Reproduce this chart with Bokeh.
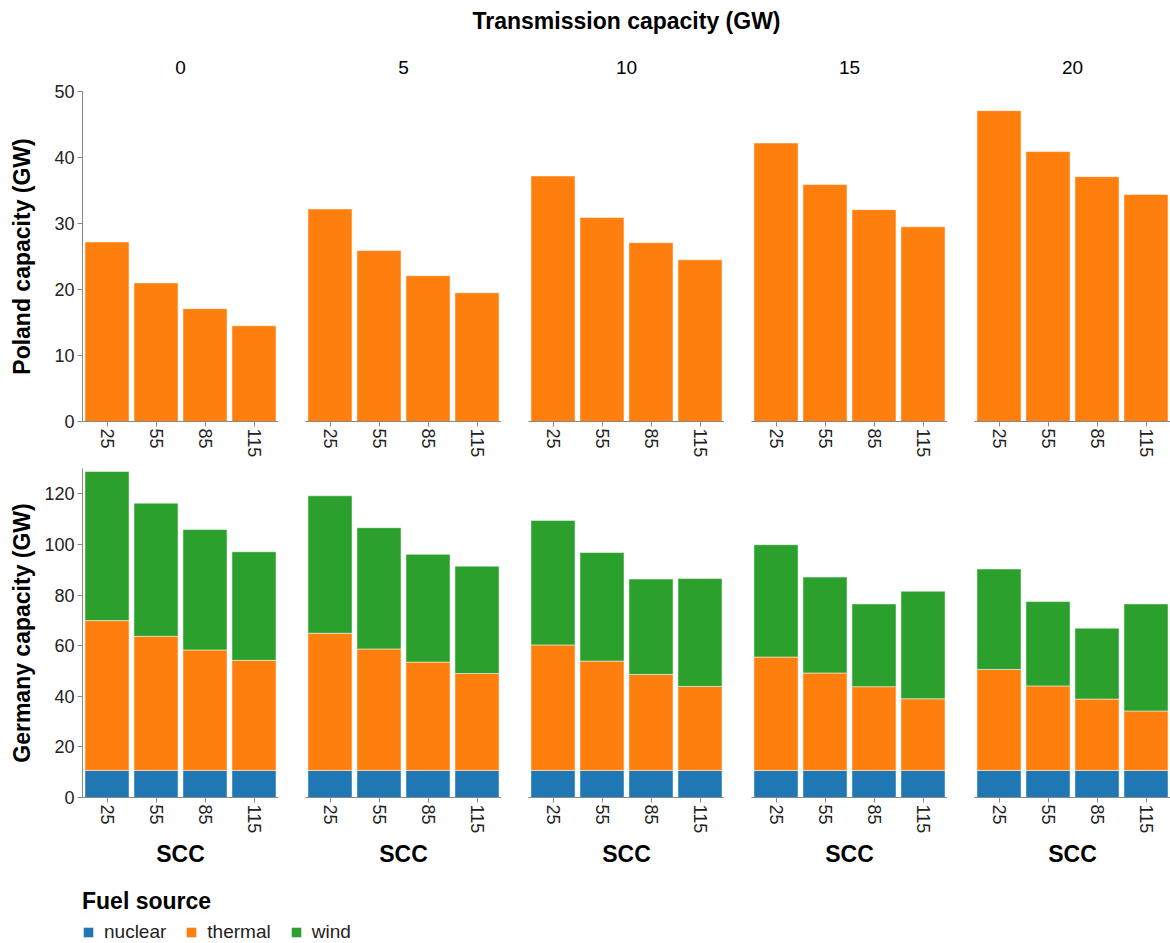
import math
from bokeh.plotting import figure
from bokeh.models import (ColumnDataSource, FactorRange, Range1d, SingleIntervalTicker,
                          Legend, LegendItem, Label, CategoricalAxis)
from bokeh.layouts import column, row
from bokeh.embed import file_html
from bokeh.resources import INLINE

# ---------------- data ----------------
scc = ["25", "55", "85", "115"]
transmission = ["0", "5", "10", "15", "20"]
fuels = ["nuclear", "thermal", "wind"]
fuel_colors = ["#1f77b4", "#ff7f0e", "#2ca02c"]

# Poland capacity (thermal only), per transmission capacity
poland_0 = [27.2, 21.0, 17.1, 14.5]
poland_5 = [32.2, 25.9, 22.1, 19.5]
poland_10 = [37.2, 30.9, 27.1, 24.5]
poland_15 = [42.2, 35.9, 32.1, 29.5]
poland_20 = [47.1, 40.9, 37.1, 34.4]

# Germany capacity by fuel, per transmission capacity
germany_nuclear = [10.7, 10.7, 10.7, 10.7]
germany_thermal_0 = [59.2, 53.0, 47.6, 43.5]
germany_thermal_5 = [54.2, 48.0, 42.8, 38.3]
germany_thermal_10 = [49.6, 43.2, 37.9, 33.2]
germany_thermal_15 = [44.8, 38.5, 33.1, 28.3]
germany_thermal_20 = [39.9, 33.4, 28.2, 23.5]
germany_wind_0 = [58.9, 52.6, 47.6, 42.9]
germany_wind_5 = [54.3, 47.9, 42.6, 42.4]
germany_wind_10 = [49.2, 42.9, 37.7, 42.6]
germany_wind_15 = [44.4, 37.9, 32.7, 42.5]
germany_wind_20 = [39.7, 33.3, 28.0, 42.3]

poland = [poland_0, poland_5, poland_10, poland_15, poland_20]
germany_thermal = [germany_thermal_0, germany_thermal_5, germany_thermal_10,
                   germany_thermal_15, germany_thermal_20]
germany_wind = [germany_wind_0, germany_wind_5, germany_wind_10,
                germany_wind_15, germany_wind_20]

# ---------------- layout constants ----------------
FONT = "Liberation Sans"
TOTAL_W = 1170
LEFT = 82
FRAME_W = 196
GAP = 27
FRAME_H = 330
TICK_FS = "18px"
TITLE_FS = "23px"

poland_y = Range1d(0, 50)
germany_y = Range1d(0, 130)


def style_common(p):
    p.xgrid.visible = False
    p.ygrid.visible = False
    p.outline_line_color = None
    p.background_fill_color = "white"
    p.border_fill_color = "white"
    for ax in p.xaxis:
        ax.axis_line_color = "#888888"
        ax.major_tick_line_color = "#888888"
        ax.major_tick_out = 5
        ax.major_tick_in = 0
        ax.minor_tick_line_color = None
        ax.major_label_orientation = "vertical"
        ax.major_label_text_font = FONT
        ax.major_label_text_font_size = TICK_FS
        ax.major_label_text_color = "#222222"
        ax.major_label_standoff = 2
    for ax in p.yaxis:
        ax.axis_line_color = "#888888"
        ax.major_tick_line_color = "#888888"
        ax.major_tick_out = 5
        ax.major_tick_in = 0
        ax.minor_tick_line_color = None
        ax.major_label_text_font = FONT
        ax.major_label_text_font_size = TICK_FS
        ax.major_label_text_color = "#222222"
        ax.major_label_standoff = 3
        ax.axis_label_text_font = FONT
        ax.axis_label_text_font_size = TITLE_FS
        ax.axis_label_text_font_style = "bold"
        ax.axis_label_text_color = "#000000"


# ---------------- header ----------------
header = figure(width=TOTAL_W, height=40, x_range=Range1d(0, 1), y_range=Range1d(0, 1),
                x_axis_type=None, y_axis_type=None, toolbar_location=None,
                output_backend="svg", min_border_left=LEFT, min_border_right=0,
                min_border_top=0, min_border_bottom=0)
header.grid.visible = False
header.outline_line_color = None
header.add_layout(Label(x=0.5, y=0.5, text="Transmission capacity (GW)",
                        text_align="center", text_baseline="middle",
                        text_font=FONT, text_font_size=TITLE_FS,
                        text_font_style="bold", text_color="#000000"))

# ---------------- top row: Poland ----------------
top_figs = []
for i, tc in enumerate(transmission):
    first = i == 0
    src = ColumnDataSource(dict(scc=scc, thermal=poland[i]))
    p = figure(x_range=FactorRange(*scc), y_range=poland_y,
               width=(LEFT if first else GAP) + FRAME_W, height=51 + FRAME_H + 47,
               min_border_left=(LEFT if first else GAP), min_border_right=0,
               min_border_top=51, min_border_bottom=47,
               toolbar_location=None, output_backend="svg")
    p.vbar(x="scc", top="thermal", width=0.9, source=src,
           fill_color=fuel_colors[1], line_color="white", line_alpha=0.5, line_width=1)
    style_common(p)
    p.yaxis.ticker = SingleIntervalTicker(interval=10, num_minor_ticks=0)
    if first:
        p.yaxis.axis_label = "Poland capacity (GW)"
        p.yaxis.axis_label_standoff = 16
    else:
        p.yaxis.visible = False
    # facet header (transmission capacity) as a single-category axis above
    p.extra_x_ranges = {"facet": FactorRange(factors=[tc])}
    facet_axis = CategoricalAxis(x_range_name="facet",
                                 axis_line_color=None, major_tick_line_color=None,
                                 minor_tick_line_color=None,
                                 major_tick_out=0, major_tick_in=0,
                                 major_label_standoff=18,
                                 major_label_orientation="horizontal",
                                 major_label_text_font=FONT,
                                 major_label_text_font_size="19px",
                                 major_label_text_color="#000000")
    p.add_layout(facet_axis, "above")
    top_figs.append(p)

# ---------------- bottom row: Germany ----------------
bottom_figs = []
for i, tc in enumerate(transmission):
    first = i == 0
    src = ColumnDataSource(dict(scc=scc, nuclear=germany_nuclear,
                                thermal=germany_thermal[i], wind=germany_wind[i]))
    p = figure(x_range=FactorRange(*scc), y_range=germany_y,
               width=(LEFT if first else GAP) + FRAME_W, height=FRAME_H + 72,
               min_border_left=(LEFT if first else GAP), min_border_right=0,
               min_border_top=0, min_border_bottom=72,
               toolbar_location=None, output_backend="svg")
    p.vbar_stack(fuels, x="scc", width=0.9, source=src, fill_color=fuel_colors,
                 line_color="white", line_alpha=0.5, line_width=1)
    style_common(p)
    p.xaxis.axis_label = "SCC"
    p.xaxis.axis_label_text_font = FONT
    p.xaxis.axis_label_text_font_size = TITLE_FS
    p.xaxis.axis_label_text_font_style = "bold"
    p.xaxis.axis_label_text_color = "#000000"
    p.xaxis.axis_label_standoff = 5
    p.yaxis.ticker = SingleIntervalTicker(interval=20, num_minor_ticks=0)
    if first:
        p.yaxis.axis_label = "Germany capacity (GW)"
        p.yaxis.axis_label_standoff = 6
    else:
        p.yaxis.visible = False
    bottom_figs.append(p)

# ---------------- legend ----------------
lp = figure(width=TOTAL_W, height=73, x_range=Range1d(0, 1), y_range=Range1d(0, 1),
            x_axis_type=None, y_axis_type=None, toolbar_location=None,
            output_backend="svg", min_border_left=LEFT, min_border_right=0,
            min_border_top=0, min_border_bottom=0)
lp.grid.visible = False
lp.outline_line_color = None
items = []
for f, c in zip(fuels, fuel_colors):
    # zero-height swatch carrier: only its legend icon is visible
    r = lp.vbar(x=[0.5], bottom=[0], top=[0], width=0.01, fill_color=c, line_color=None)
    items.append(LegendItem(label=f, renderers=[r]))
legend = Legend(items=items, orientation="horizontal", location=(0, 0),
                title="Fuel source", title_text_font=FONT, title_text_font_size=TITLE_FS,
                title_text_font_style="bold", title_text_color="#000000",
                title_standoff=6,
                label_text_font=FONT, label_text_font_size="19px",
                label_text_color="#222222",
                glyph_width=12, glyph_height=12, label_standoff=10, spacing=19,
                padding=0, margin=0, border_line_color=None,
                background_fill_alpha=0)
lp.add_layout(legend, "center")

layout = column(header, row(*top_figs), row(*bottom_figs), lp)

open("out.html", "w").write(file_html(layout, INLINE))
